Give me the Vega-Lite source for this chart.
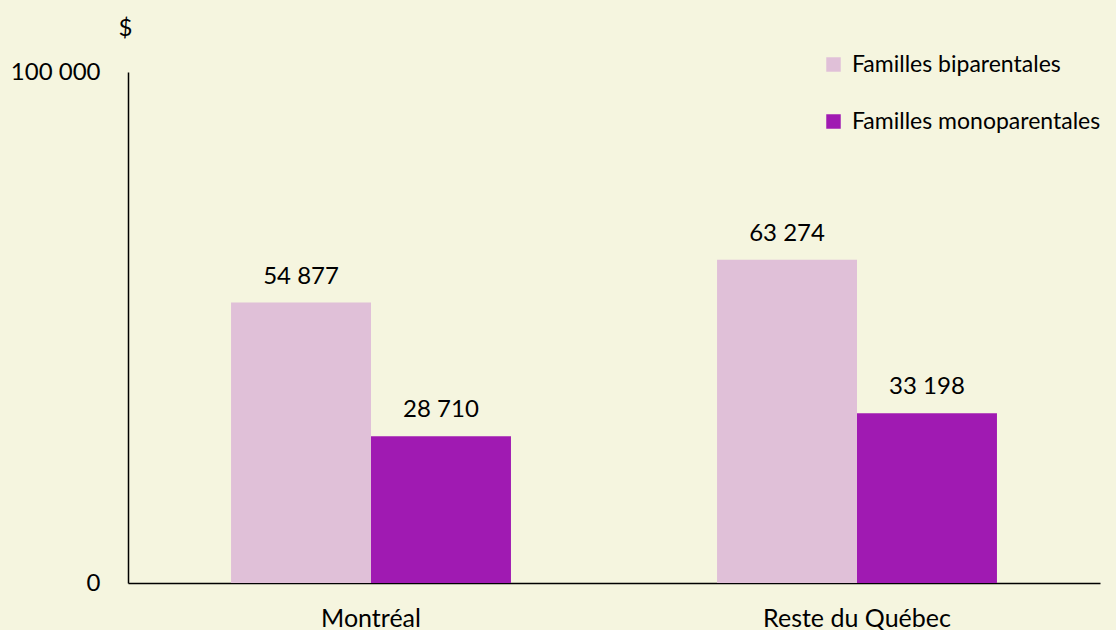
{
  "$schema": "https://vega.github.io/schema/vega-lite/v6.json",
  "width": 972,
  "height": 511,
  "autosize": {"type": "none"},
  "padding": {"left": 128, "top": 72, "right": 16, "bottom": 47},
  "background": "#F5F5DF",
  "config": {
    "view": {"stroke": null},
    "font": "Lato",
    "locale": {"number": {"decimal": ",", "thousands": " ", "grouping": [3], "currency": ["", " $"]}}
  },
  "data": {"values": [
    {"region": "Montréal", "type": "Familles biparentales", "value": 54877},
    {"region": "Montréal", "type": "Familles monoparentales", "value": 28710},
    {"region": "Reste du Québec", "type": "Familles biparentales", "value": 63274},
    {"region": "Reste du Québec", "type": "Familles monoparentales", "value": 33198}
  ]},
  "encoding": {
    "x": {"field": "region", "type": "nominal", "sort": null,
      "scale": {"paddingInner": 0.424, "paddingOuter": 0.212},
      "axis": {"title": null, "labelAngle": 0, "ticks": false, "domainColor": "#000000", "domainWidth": 1.5,
        "labelFontSize": 25, "labelColor": "#000000", "labelBaseline": "alphabetic", "labelPadding": 43,
        "labelFont": "Lato", "labelLimit": 0}},
    "xOffset": {"field": "type", "type": "nominal", "scale": {"paddingInner": 0, "paddingOuter": 0}},
    "y": {"field": "value", "type": "quantitative",
      "scale": {"domain": [0, 100000], "nice": false},
      "axis": {"values": [0, 100000], "format": ",d", "grid": false, "ticks": false,
        "domainColor": "#000000", "domainWidth": 1.5, "labelFontSize": 24, "labelColor": "#000000",
        "labelFont": "Lato", "labelPadding": 28, "title": "$", "titleAngle": 0, "titleX": -3, "titleY": -44,
        "titleAlign": "center", "titleBaseline": "middle", "titleFont": "Lato", "titleFontSize": 24,
        "titleFontWeight": "normal", "titleColor": "#000000"}}
  },
  "layer": [
    {"mark": {"type": "bar"},
      "encoding": {"color": {"field": "type", "type": "nominal",
        "scale": {"domain": ["Familles biparentales", "Familles monoparentales"], "range": ["#E0C0D8", "#A01AB2"]},
        "legend": {"title": null, "orient": "none", "legendX": 694, "legendY": -19, "symbolType": "square",
          "symbolSize": 210, "symbolStrokeWidth": 0, "labelFont": "Lato", "labelFontSize": 23,
          "labelColor": "#000000", "labelLimit": 0, "rowPadding": 33, "labelOffset": 7}}}},
    {"mark": {"type": "text", "baseline": "alphabetic", "dy": -19, "fontSize": 24, "font": "Lato", "color": "#000000"},
      "encoding": {"text": {"field": "value", "type": "quantitative", "format": ",d"}}}
  ]
}
